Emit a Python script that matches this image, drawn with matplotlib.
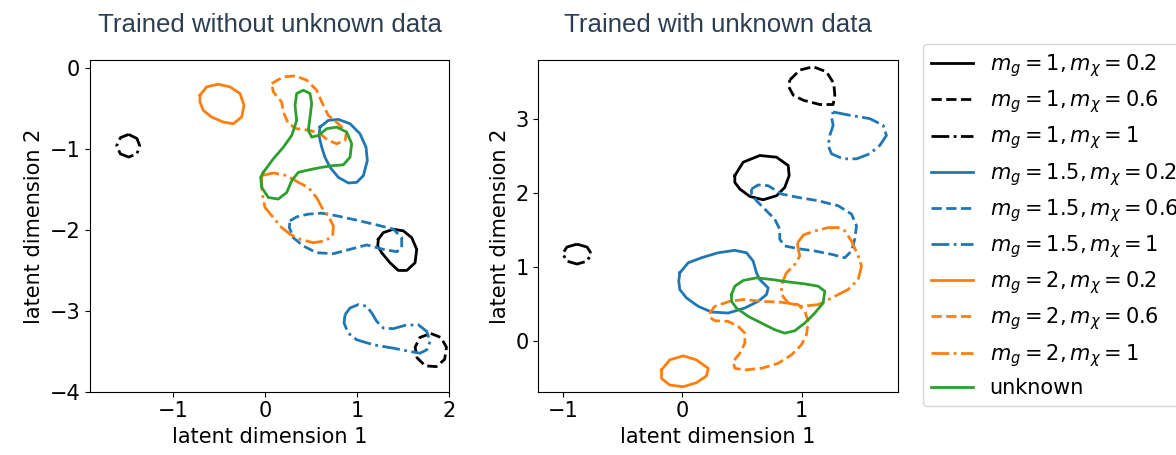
import matplotlib
matplotlib.use("Agg")
import matplotlib.pyplot as plt
import numpy as np

# contour outlines of the latent density, one closed loop per class (x, y)
# --- model trained without unknown data ---
wo_1_02 = [(1.230, -2.116), (1.284, -2.034), (1.393, -1.991), (1.502, -2.012), (1.593, -2.096),
           (1.647, -2.240), (1.629, -2.406), (1.539, -2.501), (1.447, -2.501), (1.357, -2.406),
           (1.267, -2.282), (1.224, -2.199)]
wo_1_06 = [(1.80, -3.28), (1.91, -3.33), (1.97, -3.45), (1.95, -3.60), (1.86, -3.69),
           (1.74, -3.68), (1.65, -3.58), (1.63, -3.45), (1.68, -3.33)]
wo_1_1 = [(-1.48, -0.82), (-1.39, -0.87), (-1.36, -0.96), (-1.39, -1.06), (-1.48, -1.10),
          (-1.57, -1.06), (-1.61, -0.96), (-1.57, -0.86)]
wo_15_02 = [(0.597, -0.729), (0.687, -0.646), (0.796, -0.634), (0.923, -0.687), (1.031, -0.811),
            (1.097, -0.978), (1.111, -1.143), (1.068, -1.329), (0.996, -1.412), (0.905, -1.420),
            (0.796, -1.350), (0.706, -1.226), (0.651, -1.102), (0.616, -0.978), (0.586, -0.832)]
wo_15_06 = [(0.271, -1.888), (0.344, -1.839), (0.470, -1.805), (0.616, -1.793), (0.779, -1.826),
            (0.996, -1.880), (1.213, -1.938), (1.393, -1.991), (1.484, -2.096), (1.484, -2.220),
            (1.430, -2.270), (1.284, -2.240), (1.104, -2.186), (0.923, -2.240), (0.742, -2.294),
            (0.561, -2.282), (0.416, -2.199), (0.307, -2.096), (0.264, -1.971)]
wo_15_1 = [(0.869, -3.047), (0.923, -2.965), (1.013, -2.923), (1.104, -2.944), (1.159, -3.027),
           (1.213, -3.130), (1.284, -3.214), (1.393, -3.221), (1.520, -3.180), (1.664, -3.172),
           (1.756, -3.255), (1.792, -3.379), (1.756, -3.482), (1.683, -3.524), (1.575, -3.503),
           (1.393, -3.462), (1.176, -3.420), (0.996, -3.358), (0.904, -3.276), (0.858, -3.152)]
wo_2_02 = [(-0.706, -0.335), (-0.633, -0.232), (-0.507, -0.199), (-0.380, -0.232), (-0.271, -0.314),
           (-0.228, -0.460), (-0.253, -0.605), (-0.344, -0.687), (-0.453, -0.667), (-0.579, -0.605),
           (-0.670, -0.522), (-0.706, -0.419)]
wo_2_06 = [(0.073, -0.190), (0.199, -0.108), (0.326, -0.096), (0.453, -0.149), (0.561, -0.273),
           (0.616, -0.419), (0.687, -0.584), (0.796, -0.687), (0.887, -0.791), (0.869, -0.894),
           (0.779, -0.935), (0.687, -0.894), (0.597, -0.811), (0.489, -0.770), (0.344, -0.749),
           (0.253, -0.687), (0.199, -0.543), (0.181, -0.419), (0.090, -0.294)]
wo_2_1 = [(-0.036, -1.329), (0.090, -1.296), (0.236, -1.329), (0.362, -1.412), (0.470, -1.475),
          (0.561, -1.602), (0.619, -1.727), (0.687, -1.826), (0.742, -1.950), (0.735, -2.075),
          (0.651, -2.137), (0.524, -2.158), (0.380, -2.116), (0.271, -2.053), (0.181, -1.971),
          (0.090, -1.847), (0.000, -1.723), (-0.029, -1.557), (-0.036, -1.416)]
wo_unknown = [(-0.018, -1.288), (0.090, -1.122), (0.199, -0.978), (0.290, -0.832), (0.344, -0.646),
              (0.326, -0.460), (0.344, -0.314), (0.416, -0.273), (0.489, -0.314), (0.507, -0.439),
              (0.489, -0.605), (0.470, -0.770), (0.507, -0.853), (0.579, -0.832), (0.670, -0.749),
              (0.779, -0.729), (0.887, -0.791), (0.941, -0.935), (0.923, -1.102), (0.850, -1.196),
              (0.742, -1.205), (0.616, -1.226), (0.489, -1.255), (0.362, -1.288), (0.290, -1.391),
              (0.236, -1.537), (0.144, -1.619), (0.036, -1.599), (-0.036, -1.475), (-0.047, -1.350)]

# --- model trained with unknown data ---
w_1_02 = [(0.439, 2.238), (0.509, 2.420), (0.648, 2.511), (0.789, 2.488), (0.887, 2.375),
          (0.895, 2.238), (0.858, 2.079), (0.789, 1.966), (0.677, 1.911), (0.565, 1.956),
          (0.481, 2.057), (0.439, 2.147)]
w_1_06 = [(0.900, 3.533), (0.984, 3.669), (1.096, 3.714), (1.208, 3.646), (1.269, 3.488),
          (1.278, 3.328), (1.264, 3.202), (1.152, 3.202), (1.013, 3.260), (0.929, 3.328),
          (0.892, 3.441)]
w_1_1 = [(-0.885, 1.31), (-0.80, 1.27), (-0.765, 1.18), (-0.80, 1.08), (-0.885, 1.04),
         (-0.97, 1.08), (-1.005, 1.18), (-0.97, 1.27)]
w_15_02 = [(-0.023, 0.921), (0.048, 1.057), (0.159, 1.125), (0.299, 1.193), (0.439, 1.226),
           (0.537, 1.193), (0.593, 1.080), (0.621, 0.921), (0.648, 0.831), (0.719, 0.717),
           (0.705, 0.627), (0.635, 0.535), (0.523, 0.444), (0.383, 0.376), (0.243, 0.390),
           (0.132, 0.467), (0.034, 0.580), (-0.023, 0.695), (-0.031, 0.808)]
w_15_06 = [(0.579, 2.057), (0.635, 2.112), (0.719, 2.102), (0.831, 1.989), (0.971, 1.943),
           (1.138, 1.898), (1.306, 1.830), (1.418, 1.717), (1.460, 1.557), (1.445, 1.376),
           (1.418, 1.217), (1.362, 1.125), (1.250, 1.172), (1.110, 1.217), (0.971, 1.248),
           (0.858, 1.285), (0.816, 1.376), (0.816, 1.512), (0.774, 1.649), (0.690, 1.785),
           (0.621, 1.898), (0.579, 1.989)]
w_15_1 = [(1.264, 3.101), (1.404, 3.056), (1.571, 3.011), (1.684, 2.920), (1.711, 2.783),
          (1.655, 2.647), (1.571, 2.534), (1.460, 2.466), (1.348, 2.466), (1.250, 2.534),
          (1.222, 2.647), (1.236, 2.783), (1.264, 2.920), (1.250, 3.033)]
w_2_02 = [(-0.176, -0.395), (-0.107, -0.259), (0.006, -0.204), (0.117, -0.259), (0.216, -0.373),
          (0.201, -0.477), (0.117, -0.568), (0.006, -0.623), (-0.107, -0.599), (-0.176, -0.510)]
w_2_06 = [(0.229, 0.376), (0.271, 0.467), (0.397, 0.535), (0.509, 0.559), (0.663, 0.535),
          (0.831, 0.522), (0.971, 0.490), (1.026, 0.399), (1.055, 0.263), (1.040, 0.082),
          (0.998, -0.054), (0.914, -0.191), (0.803, -0.305), (0.663, -0.373), (0.523, -0.395),
          (0.439, -0.373), (0.425, -0.282), (0.481, -0.169), (0.523, -0.033), (0.523, 0.104),
          (0.467, 0.195), (0.383, 0.263), (0.271, 0.272), (0.229, 0.317)]
w_2_1 = [(0.965, 1.326), (1.015, 1.435), (1.110, 1.489), (1.222, 1.534), (1.306, 1.534),
         (1.362, 1.489), (1.418, 1.353), (1.474, 1.148), (1.502, 1.012), (1.474, 0.831),
         (1.390, 0.695), (1.250, 0.580), (1.138, 0.490), (0.998, 0.467), (0.887, 0.512),
         (0.831, 0.627), (0.831, 0.763), (0.872, 0.921), (0.942, 1.035), (0.984, 1.148),
         (0.971, 1.244)]
w_unknown = [(0.411, 0.627), (0.439, 0.740), (0.509, 0.817), (0.621, 0.853), (0.747, 0.831),
             (0.887, 0.798), (1.026, 0.771), (1.138, 0.740), (1.194, 0.672), (1.180, 0.512),
             (1.110, 0.376), (1.026, 0.240), (0.942, 0.136), (0.858, 0.104), (0.774, 0.150),
             (0.663, 0.240), (0.551, 0.331), (0.453, 0.444), (0.411, 0.535)]

labels = [r"$m_g = 1, m_\chi = 0.2$", r"$m_g = 1, m_\chi = 0.6$", r"$m_g = 1, m_\chi = 1$",
          r"$m_g = 1.5, m_\chi = 0.2$", r"$m_g = 1.5, m_\chi = 0.6$", r"$m_g = 1.5, m_\chi = 1$",
          r"$m_g = 2, m_\chi = 0.2$", r"$m_g = 2, m_\chi = 0.6$", r"$m_g = 2, m_\chi = 1$",
          "unknown"]
colors = ["black"] * 3 + ["tab:blue"] * 3 + ["tab:orange"] * 3 + ["tab:green"]
styles = ["-", "--", "-."] * 3 + ["-"]

without_unknown = [wo_1_02, wo_1_06, wo_1_1, wo_15_02, wo_15_06, wo_15_1,
                   wo_2_02, wo_2_06, wo_2_1, wo_unknown]
with_unknown = [w_1_02, w_1_06, w_1_1, w_15_02, w_15_06, w_15_1,
                w_2_02, w_2_06, w_2_1, w_unknown]

plt.rcParams["font.size"] = 15

fig = plt.figure(figsize=(11.76, 4.55), dpi=100)
ax1 = fig.add_axes([0.0765, 0.1391, 0.3055, 0.729])
ax2 = fig.add_axes([0.4577, 0.1391, 0.3056, 0.729])


def draw_loops(ax, loops):
    for pts, lab, c, ls in zip(loops, labels, colors, styles):
        pts = np.array(pts + pts[:1])
        ax.plot(pts[:, 0], pts[:, 1], color=c, linestyle=ls, linewidth=2,
                label=lab, solid_joinstyle="round", dash_joinstyle="round")


draw_loops(ax1, without_unknown)
draw_loops(ax2, with_unknown)

ax1.set_xlim(-1.9, 2.0)
ax1.set_ylim(-4.0, 0.1)
ax1.set_xticks([-1, 0, 1, 2])
ax1.set_yticks([-4, -3, -2, -1, 0])
ax2.set_xlim(-1.21, 1.805)
ax2.set_ylim(-0.69, 3.805)
ax2.set_xticks([-1, 0, 1])
ax2.set_yticks([0, 1, 2, 3])

title_font = dict(family="Liberation Sans", fontsize=18.6, color="#2c3e50")
ax1.set_title("Trained without unknown data", pad=20, **title_font)
ax2.set_title("Trained with unknown data", pad=20, **title_font)

for ax in (ax1, ax2):
    ax.set_xlabel("latent dimension 1")
    ax.set_ylabel("latent dimension 2")

fig.legend(*ax2.get_legend_handles_labels(), loc="upper left",
           bbox_to_anchor=(923 / 1176, 1 - 44 / 455), borderaxespad=0,
           labelspacing=0.45)

fig.savefig("out.png", dpi=100)
